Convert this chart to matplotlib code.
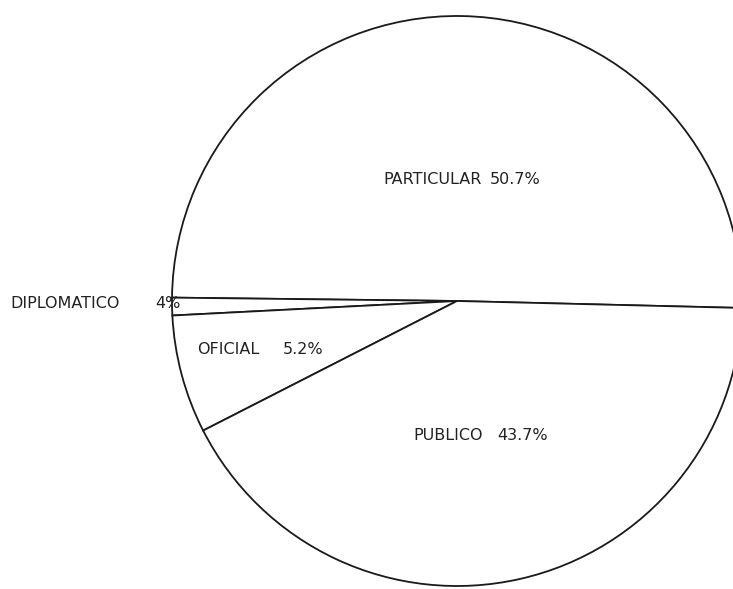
import matplotlib
matplotlib.use("Agg")
import matplotlib.pyplot as plt

# Categories, printed labels and wedge shares (angular shares, %)
categories = ["PARTICULAR", "DIPLOMATICO", "OFICIAL", "PUBLICO"]
printed_pct = ["50.7%", "4%", "5.2%", "43.7%"]
shares = [50.2, 1.0, 6.7, 42.1]

W, H = 733, 589
fig = plt.figure(figsize=(W / 100, H / 100), dpi=100)
ax = fig.add_axes([0, 0, 1, 1])

cx, cy, r = 457, H - 301, 285
ax.pie(shares, center=(cx, cy), radius=r, startangle=-1.4, counterclock=True,
       colors=["white"] * len(shares),
       wedgeprops=dict(edgecolor="#1a1a1a", linewidth=1.3))
ax.set_xlim(0, W)
ax.set_ylim(0, H)
ax.set_aspect("auto")
ax.axis("off")

# (x of category, x of percentage, y) in pixel positions
label_pos = [(383, 490, 180), (10, 155, 303), (197, 283, 350), (413, 497, 436)]
for (xc, xp, y), cat, pct in zip(label_pos, categories, printed_pct):
    ax.text(xc, H - y, cat, ha="left", va="center",
            fontsize=11.5, color="#222222", family="DejaVu Sans")
    ax.text(xp, H - y, pct, ha="left", va="center",
            fontsize=11.5, color="#222222", family="DejaVu Sans")

fig.savefig("out.png", dpi=100, facecolor="white")
